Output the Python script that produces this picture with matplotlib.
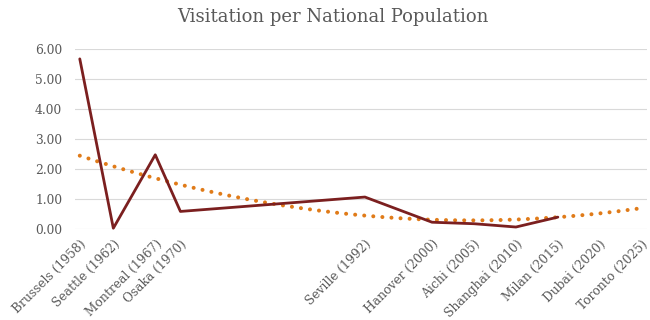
import matplotlib.pyplot as plt
import numpy as np

# Expo visitation relative to host-country population
expos = ["Brussels", "Seattle", "Montreal", "Osaka", "Seville", "Hanover",
         "Aichi", "Shanghai", "Milan", "Dubai", "Toronto"]
years = [1958, 1962, 1967, 1970, 1992, 2000, 2005, 2010, 2015, 2020, 2025]
ratio = [5.68, 0.03, 2.48, 0.59, 1.07, 0.23, 0.18, 0.07, 0.40]  # no data yet for 2020/2025

# order-2 polynomial trend, in years since 1958: a*t^2 + b*t + c
trend_coef = [0.000991, -0.0925, 2.45]

dark_red = "#7b1f1f"
orange = "#e07b19"
grey = "#595959"

plt.rcParams['font.family'] = ['DejaVu Serif']

fig = plt.figure(figsize=(6.5, 3.2), dpi=100)
ax = fig.add_axes([0.115, 0.284, 0.88, 0.562])

known_years = years[:len(ratio)]
ax.plot(known_years, ratio, color=dark_red, lw=2.0, solid_joinstyle='round',
        solid_capstyle='round', zorder=3, clip_on=False)

trend_x = np.linspace(years[0], years[-1], 400)
ax.plot(trend_x, np.polyval(trend_coef, trend_x - years[0]), color=orange, lw=2.9,
        linestyle=(0, (0.01, 2.25)), dash_capstyle='round', zorder=2, clip_on=False)

ax.set_xlim(1957.4, 2025.6)
ax.set_ylim(0, 6)
ax.set_yticks(np.arange(0, 7, 1))
ax.set_yticklabels([f"{v:.2f}" for v in range(7)])
ax.set_xticks(years)
ax.set_xticklabels([f"{n} ({y})" for n, y in zip(expos, years)],
                   rotation=45, ha='right', va='top', rotation_mode='anchor')

ax.grid(axis='y', color="#d9d9d9", lw=0.8)
ax.set_axisbelow(True)
for s in ax.spines.values():
    s.set_visible(False)
ax.tick_params(axis='both', length=0, colors=grey, labelsize=8.8)
ax.tick_params(axis='y', pad=9)
ax.tick_params(axis='x', pad=6)

fig.suptitle("Visitation per National Population", x=0.512, y=0.975,
             fontsize=13, color=grey)

fig.savefig("out.png", dpi=100)
